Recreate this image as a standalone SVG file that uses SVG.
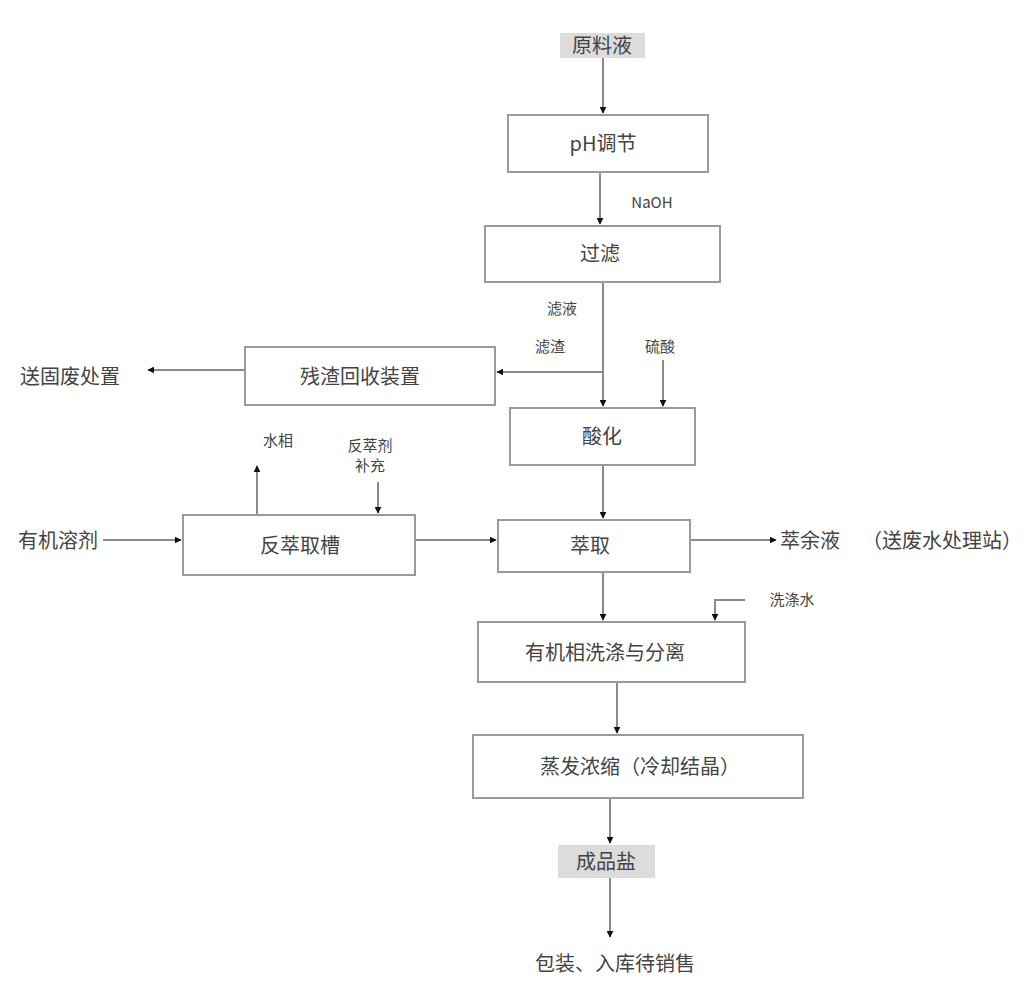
<svg xmlns="http://www.w3.org/2000/svg" width="1033" height="985" viewBox="0 0 1033 985">
<defs>
<marker id="ah" viewBox="0 0 10 10" refX="9" refY="5" markerWidth="7" markerHeight="7" orient="auto" markerUnits="userSpaceOnUse">
<path d="M0,0 L10,5 L0,10 z" fill="#111"/>
</marker>
</defs>
<style>
.box{fill:#fff;stroke:#9a9a9a;stroke-width:2}
.tag{fill:#dcdcdc;stroke:none}
.t{font-family:"Noto Sans CJK SC","Liberation Sans",sans-serif;font-size:20px;fill:#444;text-anchor:middle}
.s{font-family:"Noto Sans CJK SC","Liberation Sans",sans-serif;font-size:15px;fill:#444;text-anchor:middle}
.c{fill:none;stroke:#8a8a8a;stroke-width:2;marker-end:url(#ah)}
</style>
<rect width="1033" height="985" fill="#fff"/>
<g id="connectors">
<path class="c" d="M603,58 L603,113"/>
<path class="c" d="M600,172 L600,224"/>
<path class="c" d="M603,282 L603,406"/>
<path class="c" d="M603,372 L497,372"/>
<path class="c" d="M663,360 L663,406"/>
<path class="c" d="M603,465 L603,518"/>
<path class="c" d="M690,540 L776,540"/>
<path class="c" d="M245,370 L148,370"/>
<path class="c" d="M103,540 L181,540"/>
<path class="c" d="M415,540 L496,540"/>
<path class="c" d="M257,515 L257,466"/>
<path class="c" d="M378,482 L378,513"/>
<path class="c" d="M603,572 L603,620"/>
<path class="c" d="M745,600 L715,600 L715,620"/>
<path class="c" d="M617,682 L617,733"/>
<path class="c" d="M610,798 L610,843"/>
<path class="c" d="M610,878 L610,937"/>
</g>
<g id="n_feed"><rect class="tag" x="560" y="33" width="85" height="25"/><text class="t" x="602" y="53">原料液</text></g>
<g id="n_ph"><rect class="box" x="508" y="115" width="200" height="57"/><text class="t" x="603" y="151">pH调节</text></g>
<g id="l_naoh"><text class="s" x="652" y="208">NaOH</text></g>
<g id="n_filter"><rect class="box" x="485" y="226" width="235" height="56"/><text class="t" x="600" y="261">过滤</text></g>
<g id="l_filtrate"><text class="s" x="562" y="314">滤液</text></g>
<g id="l_residue"><text class="s" x="550" y="352">滤渣</text></g>
<g id="l_acid"><text class="s" x="660" y="352">硫酸</text></g>
<g id="n_acidify"><rect class="box" x="510" y="408" width="185" height="57"/><text class="t" x="602" y="444">酸化</text></g>
<g id="n_recovery"><rect class="box" x="245" y="347" width="250" height="58"/><text class="t" x="360" y="384">残渣回收装置</text></g>
<g id="l_waste"><text class="t" x="70" y="384">送固废处置</text></g>
<g id="n_extract"><rect class="box" x="498" y="520" width="192" height="52"/><text class="t" x="590" y="553">萃取</text></g>
<g id="l_raffinate"><text class="t" x="810" y="548">萃余液</text><text class="t" x="942" y="548">（送废水处理站）</text></g>
<g id="n_strip"><rect class="box" x="183" y="515" width="232" height="60"/><text class="t" x="300" y="553">反萃取槽</text></g>
<g id="l_solvent"><text class="t" x="58" y="548">有机溶剂</text></g>
<g id="l_aqueous"><text class="s" x="278" y="446">水相</text></g>
<g id="l_strip_agent"><text class="s" x="370" y="451">反萃剂</text><text class="s" x="370" y="471">补充</text></g>
<g id="l_wash"><text class="s" x="792" y="605">洗涤水</text></g>
<g id="n_wash"><rect class="box" x="478" y="622" width="267" height="60"/><text class="t" x="605" y="660">有机相洗涤与分离</text></g>
<g id="n_cryst"><rect class="box" x="473" y="735" width="330" height="63"/><text class="t" x="640" y="774">蒸发浓缩（冷却结晶）</text></g>
<g id="n_product"><rect class="tag" x="558" y="845" width="97" height="33"/><text class="t" x="606" y="869">成品盐</text></g>
<g id="l_final"><text class="t" x="615" y="971">包装、入库待销售</text></g>
</svg>
